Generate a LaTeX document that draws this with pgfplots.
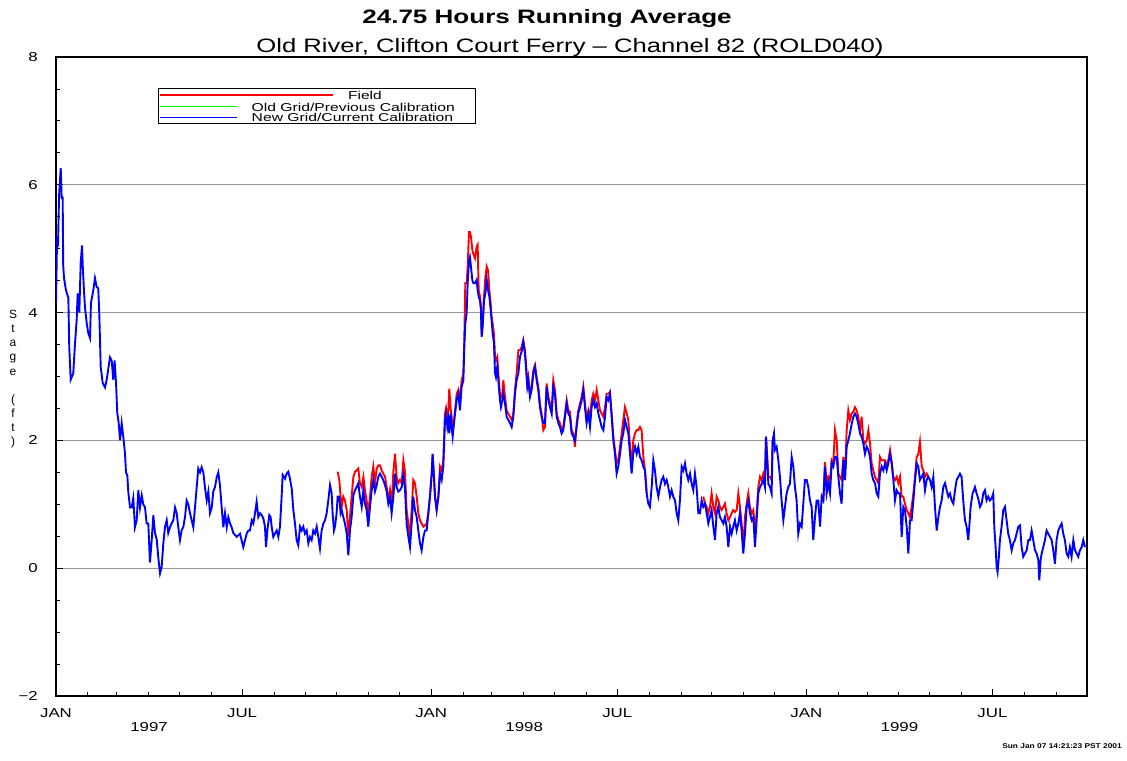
\documentclass[border=0pt]{standalone}
\usepackage{fontspec}
\setmainfont{Liberation Sans}
\usepackage{graphicx}
\usepackage{pgfplots}
\pgfplotsset{compat=1.18}
\newcommand{\sx}[1]{\scalebox{1.3}[1]{#1}}
\begin{document}
\begin{tikzpicture}
\useasboundingbox (0,0) rectangle (1127bp,761bp);
\begin{axis}[
  at={(56bp,65bp)}, anchor=south west,
  scale only axis, width=1031bp, height=639bp,
  xmin=0, xmax=1003, ymin=-2, ymax=8,
  axis line style={line width=1.3bp},
  xtick={0,181,365,546,730,911},
  xticklabels={\sx{JAN},\sx{JUL},\sx{JAN},\sx{JUL},\sx{JAN},\sx{JUL}},
  minor xtick={31,59,90,120,151,212,243,273,304,334,396,424,455,485,516,577,608,638,669,699,761,789,820,850,881,942,973},
  extra x ticks={90.5,455.5,820.5},
  extra x tick labels={\sx{1997},\sx{1998},\sx{1999}},
  extra x tick style={major tick length=0pt, xticklabel style={yshift=-14bp}},
  ytick={-2,0,2,4,6,8},
  yticklabels={\sx{−2},\sx{0},\sx{2},\sx{4},\sx{6},\sx{8}},
  minor y tick num=3,
  tick align=inside,
  xtick pos=lower, ytick pos=left,
  major tick length=7bp, minor tick length=4bp,
  tick style={black, line width=0.8bp},
  ymajorgrids, major grid style={black!40, line width=1bp},
  ticklabel style={font=\fontsize{13}{13}\selectfont},
  xticklabel style={inner sep=0pt, anchor=north, yshift=-12bp},
  yticklabel style={inner sep=0pt, anchor=east, xshift=-18bp},
  unbounded coords=jump,
]
% Field (red)
\addplot[red, line width=1.9bp] coordinates {
(274.0,1.51)(275.6,1.38)(276.9,1.12)(277.9,0.96)(279.5,1.12)(281.1,1.06)(282.8,0.91)(284.4,0.49)(286.0,0.80)(287.6,1.12)(289.3,1.43)(290.9,1.51)(292.5,1.53)(294.1,1.56)(295.7,1.33)(297.4,1.27)(299.0,1.43)(300.6,1.22)(302.2,1.06)(303.8,0.86)(305.5,1.12)(307.1,1.43)(308.7,1.59)(310.3,1.33)(312.0,1.56)(313.6,1.61)(315.2,1.61)(316.8,1.53)(318.4,1.48)(320.1,1.43)(321.7,1.27)(323.3,1.06)(324.9,1.22)(326.5,0.96)(328.2,1.51)(329.8,1.79)(331.4,1.43)(333.0,1.33)(334.6,1.38)(336.3,1.33)(337.9,1.69)(339.5,1.51)(341.1,0.91)(342.8,0.70)(344.4,0.49)(346.0,0.91)(347.6,1.38)(349.2,1.33)(350.9,1.12)(352.5,0.86)(354.1,0.75)(355.7,0.70)(357.4,0.65)(359.0,0.67)(360.6,0.70)(362.2,0.86)(363.8,1.12)
(365.5,1.48)(366.4,1.79)(367.7,1.43)(368.7,1.12)(370.3,0.91)(372.0,1.12)
(373.6,1.59)(375.2,1.53)(376.8,1.69)(377.4,1.95)(378.4,2.42)(379.4,2.50)(380.7,2.32)(381.7,2.47)(382.6,2.81)(383.9,2.50)(384.9,2.37)(385.9,2.11)(386.5,2.21)(388.2,2.47)(389.8,2.73)(391.4,2.79)(393.0,2.63)(394.6,2.94)(396.3,3.05)(397.2,3.57)(398.2,4.46)(399.5,4.46)(400.5,4.72)(401.8,5.26)(402.7,5.26)(403.7,5.19)(405.0,4.98)(406.0,4.92)(407.6,4.85)(409.2,5.03)(410.2,5.06)(411.2,4.35)(412.5,4.25)(413.4,4.09)(414.1,3.67)(415.1,3.88)(416.4,4.25)(417.7,4.56)(419.0,4.72)(420.3,4.66)(421.6,4.35)(422.9,4.14)(423.8,3.93)(424.8,3.83)(426.1,3.67)(427.1,3.31)(428.0,3.26)(429.3,3.31)(430.6,2.99)(431.9,2.73)(432.9,2.68)(434.2,2.73)(435.2,2.94)(436.8,2.68)(438.4,2.47)(440.0,2.42)(441.7,2.37)(443.3,2.32)(444.9,2.42)(446.5,2.79)(448.1,3.05)(449.8,3.41)(451.4,3.41)(453.0,3.46)(454.6,3.57)(456.2,3.41)(457.2,3.20)(458.5,2.89)(459.5,2.99)(461.1,2.73)(462.7,2.84)(464.4,3.10)(466.0,3.18)(467.6,2.99)(469.2,2.84)(470.8,2.58)(472.5,2.40)(474.1,2.16)(475.7,2.21)(477.3,2.89)(479.0,2.68)(480.6,2.58)(482.2,2.47)(483.8,2.94)(485.4,2.79)(487.1,2.42)(488.7,2.32)(490.3,2.27)(491.9,2.16)(493.5,2.21)(495.2,2.42)(496.8,2.63)(498.4,2.47)(500.0,2.45)(501.6,2.16)(503.3,2.11)(504.9,1.90)(506.5,2.27)(508.1,2.47)(509.8,2.58)(511.4,2.68)(513.0,2.84)(514.6,2.58)(516.2,2.32)(517.9,2.47)(519.5,2.37)(521.1,2.63)(522.7,2.73)(524.4,2.63)(526.0,2.79)(527.6,2.63)(529.2,2.47)(530.8,2.42)(532.5,2.37)(534.1,2.52)(535.7,2.73)(537.3,2.73)(538.9,2.76)(540.6,2.42)(542.2,2.06)(543.8,1.85)(545.4,1.64)(547.0,1.69)(548.7,1.90)(550.3,2.11)(551.9,2.32)(553.5,2.52)(555.2,2.42)(556.8,2.32)(558.4,1.90)(560.0,1.59)(561.6,2.00)(563.3,2.11)(564.9,2.16)(566.5,2.16)(568.1,2.21)(569.7,2.16)(571.4,1.74)(573.0,1.53)(574.6,1.17)
(600,nan)
(629.7,1.12)(631.4,1.01)(633.0,0.96)(634.6,0.86)(636.2,0.96)(637.8,1.17)(639.5,0.96)(641.1,0.86)(642.7,1.12)(644.3,1.06)(645.9,0.96)(647.6,0.91)(649.2,0.96)(650.8,1.01)(652.4,0.86)(654.1,0.75)(655.7,0.80)(657.3,0.86)(658.9,0.91)(660.5,0.88)(662.2,0.91)(663.8,1.17)(665.4,0.96)(667.0,0.70)(668.6,0.33)(670.3,0.80)(671.9,1.01)(673.5,1.17)(675.1,0.96)(676.8,0.86)(678.4,0.91)(680.0,0.54)(681.6,0.86)(683.2,1.27)(684.9,1.43)(686.5,1.38)(688.1,1.48)(689.7,1.38)(690.7,2.06)(692.0,1.69)(693.0,1.43)(694.6,1.43)(696.2,1.38)(697.2,2.00)
(720,nan)
(746.5,1.06)(748.1,1.66)(749.7,1.33)(751.4,1.43)(753.0,1.38)(754.6,1.69)(756.2,1.64)(757.8,2.16)(759.5,2.00)(761.1,1.48)(762.7,1.43)(764.3,1.38)(766.0,1.74)(767.6,1.43)(769.2,2.16)(770.8,2.47)(772.4,2.32)(774.1,2.42)(775.7,2.45)(777.3,2.52)(778.9,2.47)(780.5,2.37)(782.2,2.16)(783.8,2.37)(785.4,2.00)(787.0,1.95)(788.7,2.00)(790.3,2.16)(791.9,1.95)(793.5,1.64)(795.1,1.53)(796.8,1.43)(798.4,1.38)(800.0,1.33)(801.6,1.74)(803.3,1.69)(804.9,1.69)(806.5,1.69)(808.1,1.59)(809.7,1.69)(811.4,1.85)(813.0,1.66)(814.6,1.43)(816.2,1.38)(817.8,1.43)(819.5,1.33)(821.1,1.43)(822.7,1.12)(824.3,1.12)(825.9,1.01)(827.6,0.91)(829.2,0.86)(830.8,0.80)(832.4,0.96)(834.1,1.17)(835.7,1.43)(837.3,1.74)(838.9,1.79)(840.5,1.98)(842.2,1.59)(843.8,1.53)(845.4,1.43)(847.0,1.48)(848.6,1.43)
};
% New Grid/Current Calibration (blue)
\addplot[blue, line width=1.9bp] coordinates {
(0,4.15)(1,5.13)(2,5.09)(3,5.84)(4.6,6.26)(5.5,5.8)(6.5,5.8)(7,4.74)(7.8,4.54)(9.7,4.35)(12,4.23)(12.9,3.46)(14.3,2.95)(16.8,3.05)(18.5,3.52)(20.1,3.88)(21.1,4.30)(22.7,4.0)(24,4.77)(25.3,5.05)(26,4.74)(27.2,4.35)(28.2,4.08)(29.9,3.83)(31.4,3.68)(33.1,3.60)(34,4.15)(36.3,4.35)(37.9,4.54)(39.6,4.4)(41.1,4.38)(42.1,3.99)(43.5,3.15)(45.4,2.9)(47.7,2.83)(49.3,2.95)(52.5,3.30)(54.2,3.25)(55.7,2.95)(57,3.25)(58.4,2.90)(59.6,2.43)(61,2.27)(62.3,2.0)(63.9,2.27)(65.5,2.05)(67.1,1.80)(68.1,1.50)(69.4,1.45)(70.3,1.20)(72,0.95)(73.6,0.95)(75.2,1.10)(76.8,0.64)(78.5,0.75)(80.1,1.22)(81.7,0.95)(83.4,1.14)(84.9,1.0)(86.6,0.95)(88.2,0.70)(89.8,0.70)(91.4,0.09)(93.1,0.44)(94.7,0.83)(96.3,0.55)(98,0.45)(99.5,0.17)(101.2,-0.08)(102.8,0.02)(104.4,0.39)(106,0.64)(107.7,0.75)(109.2,0.55)(110.9,0.64)(112.5,0.70)(114.1,0.75)(115.8,0.95)(117.4,0.86)(119,0.64)(120.6,0.44)(122.3,0.60)(123.8,0.64)(125.5,0.80)(127.1,1.06)(128.7,1.0)(130.4,0.86)(132,0.75)(133.6,0.64)(135.2,0.95)(136.9,1.27)(138.4,1.56)(140.1,1.50)(141.7,1.58)(143.3,1.50)(144.9,1.27)(146.6,1.06)(148.2,1.20)(149.8,0.86)(151.5,0.95)(153,1.20)(154.7,1.27)(156.3,1.42)(157.9,1.50)(159.5,1.30)(161.2,0.95)(162.8,0.64)(164.4,0.86)(166.1,0.64)(167.6,0.80)(169.3,0.70)(170.9,0.64)(172.5,0.55)(175.8,0.49)
(179.0,0.54)(182.2,0.33)(183.9,0.44)(185.5,0.54)(187.1,0.59)(188.7,0.59)(190.4,0.75)(192.0,0.70)(193.6,0.86)(195.2,1.04)(196.8,0.80)(198.5,0.86)(200.1,0.83)(201.7,0.78)(203.3,0.65)(204.3,0.33)(205.6,0.59)(207.5,0.83)(208.8,0.80)(209.8,0.65)(211.4,0.49)(213.0,0.54)(214.7,0.59)(216.3,0.49)(217.9,0.65)(219.5,1.12)(220.5,1.46)(222.8,1.40)(224.4,1.48)(226.0,1.51)(227.6,1.40)(229.3,1.25)(230.9,0.91)(232.5,0.70)(234.1,0.44)(235.7,0.36)(237.4,0.65)(239.0,0.59)(240.6,0.65)(242.2,0.54)(243.9,0.59)(245.5,0.39)(247.1,0.49)(248.7,0.44)(250.3,0.59)(252.0,0.54)(253.6,0.65)(255.2,0.49)(256.8,0.31)(258.4,0.59)(260.1,0.70)(261.7,0.75)(263.3,0.86)(264.9,1.06)(266.6,1.30)(268.2,1.17)(269.1,0.86)(270.4,0.59)(271.4,0.65)(273.0,0.86)(274.0,1.12)(275.6,1.12)(276.9,0.86)(277.9,0.91)(279.5,0.80)(281.1,0.70)(282.8,0.54)(284.4,0.20)(286.0,0.59)(287.6,0.80)(289.3,1.14)(290.9,1.22)(292.5,1.27)(294.1,1.33)(295.7,1.12)(297.4,0.96)(299.0,1.22)(300.6,1.01)(302.2,0.91)(303.8,0.65)(305.5,0.96)(307.1,1.22)(308.7,1.38)(310.3,1.20)(312.0,1.30)(313.6,1.43)(315.2,1.48)(316.8,1.43)(318.4,1.38)(320.1,1.30)(321.7,1.20)(323.3,1.01)(324.9,1.12)(326.5,0.86)(328.2,1.12)(329.8,1.48)(331.4,1.27)(333.0,1.20)(334.6,1.22)(336.3,1.27)(337.9,1.46)(339.5,1.25)(341.1,0.70)(342.8,0.49)(344.4,0.33)(346.0,0.70)(347.6,1.12)(349.2,0.91)(350.9,0.80)(352.5,0.59)(354.1,0.39)(355.7,0.28)(357.4,0.49)(359.0,0.59)(360.6,0.59)(362.2,0.86)(363.8,1.12)(365.5,1.48)(366.4,1.79)(367.7,1.43)(368.7,1.12)(370.3,0.91)(372.0,1.12)
(373.6,1.48)(375.2,1.38)(376.8,1.59)(377.4,1.87)(378.4,2.32)(379.4,2.42)(380.7,2.21)(381.7,2.32)(382.6,2.11)(383.9,2.42)(384.9,2.21)(385.9,2.06)(386.5,2.16)(388.2,2.42)(389.8,2.63)(391.4,2.73)(393.0,2.47)(394.6,2.84)(396.3,2.94)(397.2,3.46)(398.2,3.83)(399.5,3.99)(400.5,4.46)(401.8,4.82)(402.7,4.87)(403.7,4.72)(405.0,4.51)(406.0,4.46)(407.6,4.46)(409.2,4.51)(410.2,4.35)(411.2,4.25)(412.5,4.19)(413.4,4.04)(414.1,3.62)(415.1,3.78)(416.4,4.19)(417.7,4.30)(419.0,4.51)(420.3,4.35)(421.6,4.25)(422.9,4.04)(423.8,3.88)(424.8,3.67)(426.1,3.52)(427.1,3.05)(428.0,2.99)(429.3,3.15)(430.6,2.89)(431.9,2.63)(432.9,2.52)(434.2,2.63)(435.2,2.73)(436.8,2.58)(438.4,2.37)(440.0,2.32)(441.7,2.27)(443.3,2.21)(444.9,2.37)(446.5,2.73)(448.1,2.94)(449.8,3.05)(451.4,3.31)(453.0,3.39)(454.6,3.54)(456.2,3.36)(457.2,3.15)(458.5,2.84)(459.5,2.94)(461.1,2.68)(462.7,2.79)(464.4,3.05)(466.0,3.15)(467.6,2.94)(469.2,2.79)(470.8,2.52)(472.5,2.37)(474.1,2.27)(475.7,2.27)(477.3,2.84)(479.0,2.63)(480.6,2.52)(482.2,2.42)(483.8,2.84)(485.4,2.73)(487.1,2.37)(488.7,2.27)(490.3,2.21)(491.9,2.11)(493.5,2.16)(495.2,2.37)(496.8,2.58)(498.4,2.42)(500.0,2.37)(501.6,2.11)(503.3,2.06)(504.9,2.00)(506.5,2.21)(508.1,2.42)(509.8,2.52)(511.4,2.63)(513.0,2.79)(514.6,2.52)(516.2,2.27)(517.9,2.42)(519.5,2.21)(521.1,2.52)(522.7,2.63)(524.4,2.52)(526.0,2.58)(527.6,2.42)(529.2,2.32)(530.8,2.21)(532.5,2.16)(534.1,2.37)(535.7,2.68)(537.3,2.63)(538.9,2.73)(540.6,2.37)(542.2,2.00)(543.8,1.79)(545.4,1.48)(547.0,1.59)(548.7,1.79)(550.3,2.00)(551.9,2.11)(553.5,2.32)(555.2,2.21)(556.8,2.11)(558.4,1.79)(560.0,1.48)(561.6,1.79)(563.3,1.90)(564.9,1.79)(566.5,1.90)
(568.1,1.74)(569.7,1.69)(571.4,1.59)(573.0,1.53)(574.6,1.17)(576.2,1.01)(577.8,0.96)(579.5,1.27)(581.1,1.69)(582.7,1.53)(584.3,1.27)(586.0,1.12)(587.6,1.27)(589.2,1.38)(590.8,1.43)(592.4,1.32)(594.1,1.38)(595.7,1.27)(597.3,1.12)(598.9,1.22)(600.5,1.12)(602.2,1.06)(603.8,0.86)(605.4,0.75)(607.0,1.06)(608.7,1.59)(610.3,1.53)(611.9,1.64)(613.5,1.48)(615.1,1.38)(616.8,1.48)(618.4,1.32)(620.0,1.22)(621.6,1.48)(623.2,1.27)(624.9,0.86)(626.5,0.86)(628.1,1.06)(629.7,0.96)(631.4,1.01)(633.0,0.86)(634.6,0.70)(636.2,0.80)(637.8,0.91)(639.5,0.65)(641.1,0.44)(642.7,0.86)(644.3,0.96)(645.9,0.80)(647.6,0.75)(649.2,0.70)(650.8,0.80)(652.4,0.65)(654.1,0.33)(655.7,0.65)(657.3,0.54)(658.9,0.65)(660.5,0.75)(662.2,0.59)(663.8,0.70)(665.4,0.86)(667.0,0.59)(668.6,0.23)(670.3,0.54)(671.9,0.96)(673.5,1.06)(675.1,0.86)(676.8,0.75)(678.4,0.80)(680.0,0.33)(681.6,0.75)(683.2,1.17)(684.9,1.27)(686.5,1.32)(688.1,1.38)(689.7,1.27)(690.7,2.06)(692.0,1.69)(693.0,1.32)(694.6,1.27)(696.2,1.17)(697.2,2.00)(698.5,2.11)(699.4,1.85)(701.1,1.90)(702.7,1.69)(704.3,1.43)(705.9,1.06)(707.6,0.75)(709.2,0.96)(710.8,1.17)(712.4,1.27)(714.0,1.32)(715.7,1.74)(717.3,1.59)(718.9,1.27)(720.5,1.06)(722.1,0.54)(723.8,0.70)(725.4,0.65)(727.0,1.01)(728.6,1.38)(730.3,1.38)(731.9,1.27)(733.5,1.06)(735.1,0.96)(736.7,0.44)(738.4,0.80)(740.0,1.06)(741.6,1.06)
(743.3,0.65)(744.9,1.12)(746.5,1.06)(748.1,1.59)(749.7,1.17)(751.4,1.33)(753.0,1.17)(754.6,1.64)(756.2,1.59)(757.8,1.74)(759.5,1.74)(761.1,1.43)(762.7,1.17)(764.3,1.01)(766.0,1.69)(767.6,1.38)(769.2,1.90)(770.8,2.00)(772.4,2.11)(774.1,2.26)(775.7,2.37)(777.3,2.42)(778.9,2.37)(780.5,2.26)(782.2,2.11)(783.8,2.06)(785.4,1.95)(787.0,1.79)(788.7,1.90)(790.3,1.85)(791.9,1.74)(793.5,1.48)(795.1,1.38)(796.8,1.33)(798.4,1.17)(800.0,1.12)(801.6,1.48)(803.3,1.59)(804.9,1.53)(806.5,1.64)(808.1,1.53)(809.7,1.64)(811.4,1.79)(813.0,1.64)(814.6,1.38)(816.2,1.06)(817.8,1.22)(819.5,1.17)(821.1,1.17)(822.7,0.49)(824.3,0.96)(825.9,0.91)(827.6,0.65)(829.2,0.23)(830.8,0.75)(832.4,0.75)(834.1,1.06)(835.7,1.38)(837.3,1.64)(838.9,1.59)(840.5,1.38)(842.2,1.43)(843.8,1.48)(845.4,1.22)(847.0,1.38)(848.6,1.43)(850.3,1.38)(851.9,1.27)(853.5,1.43)(855.1,0.96)(856.8,0.59)(858.4,0.80)(860.0,0.96)(861.6,1.06)(863.2,1.27)(864.9,1.33)(866.5,1.22)(868.1,1.12)(869.7,1.17)(871.3,1.06)(873.0,1.01)(874.6,1.22)(876.2,1.38)(877.8,1.43)
(879.4,1.48)(881.0,1.43)(882.6,1.06)(884.3,0.75)(885.9,0.65)(887.5,0.44)(888.5,0.65)(889.8,0.96)(891.7,1.17)(893.0,1.22)(894.0,1.27)(895.6,1.17)(897.2,1.09)(898.9,0.96)(900.5,1.01)(902.1,1.17)(903.7,1.22)(905.3,1.06)(907.0,1.12)(908.6,1.06)(910.2,1.09)(911.8,1.17)(912.8,0.65)(914.1,0.33)(915.1,0.02)(916.0,-0.06)(917.3,0.18)(918.3,0.44)(919.9,0.65)(921.6,0.91)(923.2,0.96)(924.8,0.75)(926.4,0.54)(928.0,0.44)(929.7,0.28)(931.3,0.39)(932.9,0.44)(934.5,0.54)(936.2,0.65)(937.8,0.67)(939.4,0.33)(941.0,0.18)(942.6,0.23)(944.3,0.28)(945.9,0.44)(947.5,0.44)(949.1,0.59)(950.7,0.44)(952.4,0.28)(954.0,0.23)(955.6,0.13)(956.6,-0.19)(957.9,0.13)(958.9,0.23)(960.5,0.33)(962.1,0.44)(963.7,0.59)(965.3,0.54)(967.0,0.49)(968.6,0.44)(970.2,0.28)(971.8,0.07)(973.4,0.44)(975.1,0.59)(976.7,0.65)(978.3,0.70)(979.9,0.54)(981.5,0.44)(983.2,0.23)(984.8,0.18)(986.4,0.33)(988.0,0.18)(989.7,0.44)(991.3,0.28)(992.9,0.23)(994.5,0.18)(996.1,0.28)(997.8,0.33)(999.4,0.44)(1001.0,0.33)
};
\end{axis}
% titles
\node[anchor=base, inner sep=0pt, font=\bfseries\fontsize{19.5}{20}\selectfont] at (547bp,737bp) {\scalebox{1.34}[1]{24.75 Hours Running Average}};
\node[anchor=base, inner sep=0pt, font=\fontsize{19.5}{20}\selectfont] at (570bp,708bp) {\scalebox{1.32}[1]{Old River, Clifton Court Ferry – Channel 82 (ROLD040)}};
% y label
\node[anchor=north, align=center, inner sep=0pt, font=\fontsize{12}{14.2}\selectfont] at (13bp,451bp) {S\\t\\a\\g\\e\\\mbox{}\\(\\f\\t\\)};
% legend
\draw[line width=1bp, fill=white] (158bp,637bp) rectangle (475bp,672bp);
\draw[red, line width=1.5bp] (160bp,666bp) -- (333bp,666bp);
\draw[green, line width=1.5bp] (160bp,654.5bp) -- (237bp,654.5bp);
\draw[blue, line width=1.5bp] (160bp,643.5bp) -- (237bp,643.5bp);
\node[anchor=base west, inner sep=0pt, font=\fontsize{11.5}{12}\selectfont] at (348bp,661bp) {\scalebox{1.35}[1]{Field}};
\node[anchor=base west, inner sep=0pt, font=\fontsize{11.5}{12}\selectfont] at (251.5bp,649.5bp) {\scalebox{1.37}[1]{Old Grid/Previous Calibration}};
\node[anchor=base west, inner sep=0pt, font=\fontsize{11.5}{12}\selectfont] at (251.5bp,639bp) {\scalebox{1.37}[1]{New Grid/Current Calibration}};
% timestamp
\node[anchor=base east, inner sep=0pt, font=\bfseries\fontsize{7}{7}\selectfont] at (1122bp,13bp) {\scalebox{1.2}[1]{Sun Jan 07 14:21:23 PST 2001}};
\end{tikzpicture}
\end{document}
